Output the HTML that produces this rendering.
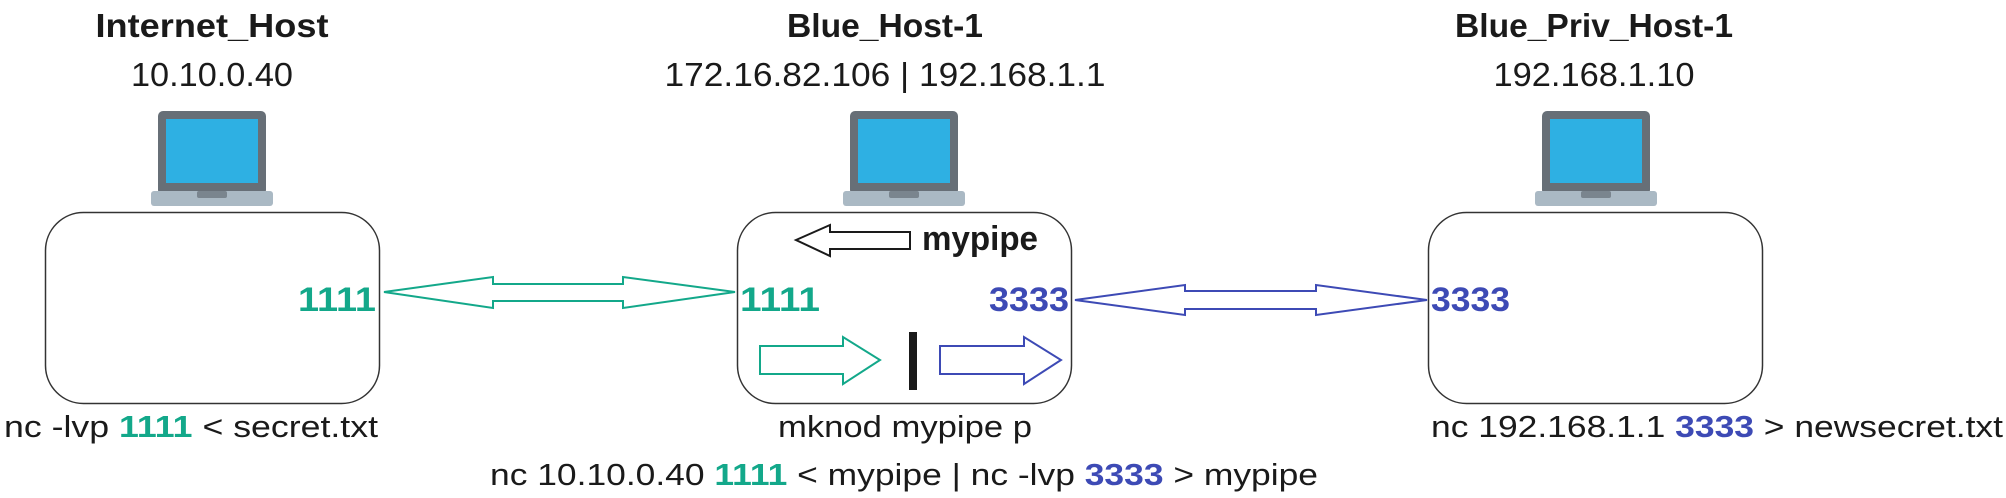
<!DOCTYPE html>
<html><head><meta charset="utf-8"><style>
html,body{margin:0;padding:0;background:#fff;}
svg{display:block;}
text{font-family:"Liberation Sans",sans-serif;}
</style></head><body>
<svg width="2006" height="498" viewBox="0 0 2006 498" xmlns="http://www.w3.org/2000/svg">
<defs>
<g id="laptop">
<rect x="-54" y="0" width="108" height="84" rx="5" fill="#676f77"/>
<rect x="-46" y="8" width="92" height="64" fill="#2eb0e3"/>
<rect x="-61" y="80" width="122" height="15" rx="3" fill="#aab9c4"/>
<rect x="-15" y="80" width="30" height="7" rx="2" fill="#7a858e"/>
</g>
</defs>
<text x="212" y="37" font-size="33" font-weight="bold" text-anchor="middle" textLength="233" lengthAdjust="spacingAndGlyphs" fill="#1a1a1a">Internet_Host</text>
<text x="212" y="86" font-size="33" text-anchor="middle" textLength="162" lengthAdjust="spacingAndGlyphs" fill="#1a1a1a">10.10.0.40</text>
<text x="885" y="37" font-size="33" font-weight="bold" text-anchor="middle" textLength="196" lengthAdjust="spacingAndGlyphs" fill="#1a1a1a">Blue_Host-1</text>
<text x="885" y="86" font-size="33" text-anchor="middle" textLength="441" lengthAdjust="spacingAndGlyphs" fill="#1a1a1a">172.16.82.106 | 192.168.1.1</text>
<text x="1594" y="37" font-size="33" font-weight="bold" text-anchor="middle" textLength="278" lengthAdjust="spacingAndGlyphs" fill="#1a1a1a">Blue_Priv_Host-1</text>
<text x="1594" y="86" font-size="33" text-anchor="middle" textLength="201" lengthAdjust="spacingAndGlyphs" fill="#1a1a1a">192.168.1.10</text>
<use href="#laptop" x="212" y="111"/>
<use href="#laptop" x="904" y="111"/>
<use href="#laptop" x="1596" y="111"/>
<rect x="45.5" y="212.5" width="334" height="191" rx="38" fill="none" stroke="#333" stroke-width="1.5"/>
<rect x="737.5" y="212.5" width="334" height="191" rx="38" fill="none" stroke="#333" stroke-width="1.5"/>
<rect x="1428.5" y="212.5" width="334" height="191" rx="38" fill="none" stroke="#333" stroke-width="1.5"/>
<text x="298" y="311" font-size="34" font-weight="bold" textLength="78" lengthAdjust="spacingAndGlyphs" fill="#13a88a">1111</text>
<text x="740" y="311" font-size="34" font-weight="bold" textLength="80" lengthAdjust="spacingAndGlyphs" fill="#13a88a">1111</text>
<text x="989" y="311" font-size="34" font-weight="bold" textLength="80" lengthAdjust="spacingAndGlyphs" fill="#3d4ab5">3333</text>
<text x="1431" y="311" font-size="34" font-weight="bold" textLength="79" lengthAdjust="spacingAndGlyphs" fill="#3d4ab5">3333</text>
<polygon points="384,292 493,277 493,284 623,284 623,277 735,292 623,308 623,301 493,301 493,308" fill="none" stroke="#13a88a" stroke-width="2"/>
<polygon points="1075,300 1185,285 1185,291 1316,291 1316,285 1427,300 1316,315 1316,309 1185,309 1185,315" fill="none" stroke="#3d4ab5" stroke-width="2"/>
<polygon points="796,240 830,225 830,232 910,232 910,249 830,249 830,256" fill="none" stroke="#1a1a1a" stroke-width="2"/>
<text x="922" y="250" font-size="34" font-weight="bold" textLength="116" lengthAdjust="spacingAndGlyphs" fill="#1a1a1a">mypipe</text>
<polygon points="760,346 843,346 843,337 880,360 843,384 843,374 760,374" fill="none" stroke="#13a88a" stroke-width="2"/>
<rect x="909" y="332" width="8" height="58" fill="#1a1a1a"/>
<polygon points="940,346 1024,346 1024,337 1061,360 1024,384 1024,374 940,374" fill="none" stroke="#3d4ab5" stroke-width="2"/>
<text x="4" y="437" font-size="31" textLength="374" lengthAdjust="spacingAndGlyphs" fill="#1a1a1a">nc -lvp <tspan font-weight="bold" fill="#13a88a">1111</tspan> &lt; secret.txt</text>
<text x="778" y="437" font-size="31" textLength="254" lengthAdjust="spacingAndGlyphs" fill="#1a1a1a">mknod mypipe p</text>
<text x="490" y="485" font-size="31" textLength="828" lengthAdjust="spacingAndGlyphs" fill="#1a1a1a">nc 10.10.0.40 <tspan font-weight="bold" fill="#13a88a">1111</tspan> &lt; mypipe | nc -lvp <tspan font-weight="bold" fill="#3d4ab5">3333</tspan> &gt; mypipe</text>
<text x="1431" y="437" font-size="31" textLength="572" lengthAdjust="spacingAndGlyphs" fill="#1a1a1a">nc 192.168.1.1 <tspan font-weight="bold" fill="#3d4ab5">3333</tspan> &gt; newsecret.txt</text>
</svg>
</body></html>
